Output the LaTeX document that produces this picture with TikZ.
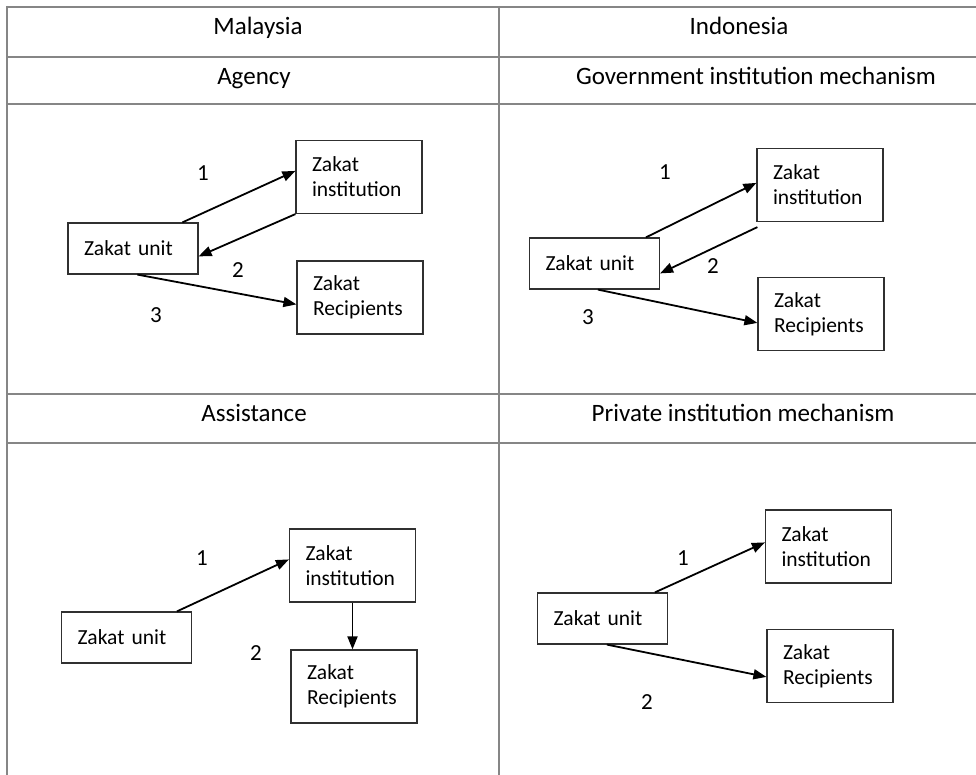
\documentclass[tikz,border=0pt]{standalone}
\usepackage{fontspec}
\setmainfont{Carlito}
\usetikzlibrary{arrows.meta,calc}
\definecolor{gridc}{HTML}{868686}
\definecolor{boxc}{HTML}{303030}
\begin{document}
\begin{tikzpicture}[x=1pt,y=-1pt,
  gridline/.style={draw=gridc,line width=2pt},
  head/.style={font=\fontsize{25}{30}\selectfont,inner sep=0pt,anchor=base},
  ubox/.style={draw=boxc,line width=1.2pt,align=left,font=\fontsize{21.5}{25}\selectfont,
    text width=98pt,inner xsep=16pt,inner ysep=0pt,minimum height=51pt},
  tbox/.style={draw=boxc,line width=1.2pt,align=left,font=\fontsize{21.5}{25}\selectfont,
    text width=94pt,inner xsep=16pt,inner ysep=0pt,minimum height=73pt},
  num/.style={font=\fontsize{23}{27}\selectfont,inner sep=0pt},
  arr/.style={line width=1.8pt,-{Triangle[length=13pt,width=10pt]}}]
\useasboundingbox (0,0) rectangle (976,775);
\fill[white] (0,0) rectangle (976,775);
% table rules
\draw[gridline] (7,7) -- (976,7);
\draw[gridline] (7,57) -- (976,57);
\draw[gridline] (7,104) -- (976,104);
\draw[gridline] (7,394) -- (976,394);
\draw[gridline] (7,443) -- (976,443);
\draw[gridline] (7,6) -- (7,775);
\draw[gridline] (499,6) -- (499,775);
% headings
\node[head] (hm) at (258,35) {Malaysia};
\node[head] (hi) at (739,35) {Indonesia};
\node[head] (ha) at (254,85) {Agency};
\node[head] (hg) at (756,85) {Government institution mechanism};
\node[head] (hs) at (254,421) {Assistance};
\node[head] (hp) at (743,421) {Private institution mechanism};
% panel A: Agency
\node[ubox] (au) at (133,248.5) {Zakat unit};
\node[tbox] (ai) at (359,177) {Zakat\\institution};
\node[tbox] (ar) at (360,297.5) {Zakat\\Recipients};
\draw[arr] ($(au.north west)+(115,0)$) -- ($(ai.north west)+(0,31)$);
\draw[arr] (ai.south west) -- ($(au.north east)+(0,34)$);
\draw[arr] ($(au.south west)+(70,0)$) -- ($(ar.north west)+(0,44)$);
\node[num] (a1) at (203,173) {1};
\node[num] (a2) at (238,270) {2};
\node[num] (a3) at (156,315) {3};
% panel B: Government institution mechanism
\node[ubox] (bu) at (594.5,263.5) {Zakat unit};
\node[tbox] (bi) at (820,185) {Zakat\\institution};
\node[tbox] (br) at (821,314) {Zakat\\Recipients};
\draw[arr] ($(bu.north west)+(117,0)$) -- ($(bi.north west)+(0,35)$);
\draw[arr] ($(bi.south west)+(1,5)$) -- ($(bu.north east)+(0,36)$);
\draw[arr] ($(bu.south west)+(69,0)$) -- ($(br.north west)+(0,46)$);
\node[num] (b1) at (665,172) {1};
\node[num] (b2) at (713,266) {2};
\node[num] (b3) at (588,317) {3};
% panel C: Assistance
\node[ubox] (cu) at (126.5,637.5) {Zakat unit};
\node[tbox] (ci) at (352.5,565.5) {Zakat\\institution};
\node[tbox] (cr) at (354,686.5) {Zakat\\Recipients};
\draw[arr] ($(cu.north west)+(116,0)$) -- ($(ci.north west)+(0,31)$);
\draw[arr] (ci.south) -- (ci.south |- cr.north);
\node[num] (c1) at (202,558) {1};
\node[num] (c2) at (256,653) {2};
% panel D: Private institution mechanism
\node[ubox] (du) at (602.5,618.5) {Zakat unit};
\node[tbox] (di) at (828.5,546.5) {Zakat\\institution};
\node[tbox] (dr) at (830,666) {Zakat\\Recipients};
\draw[arr] ($(du.north west)+(118,0)$) -- ($(di.north west)+(0,33)$);
\draw[arr] ($(du.south west)+(70,0)$) -- ($(dr.north west)+(0,48)$);
\node[num] (d1) at (683,558) {1};
\node[num] (d2) at (647,702) {2};
\end{tikzpicture}
\end{document}
